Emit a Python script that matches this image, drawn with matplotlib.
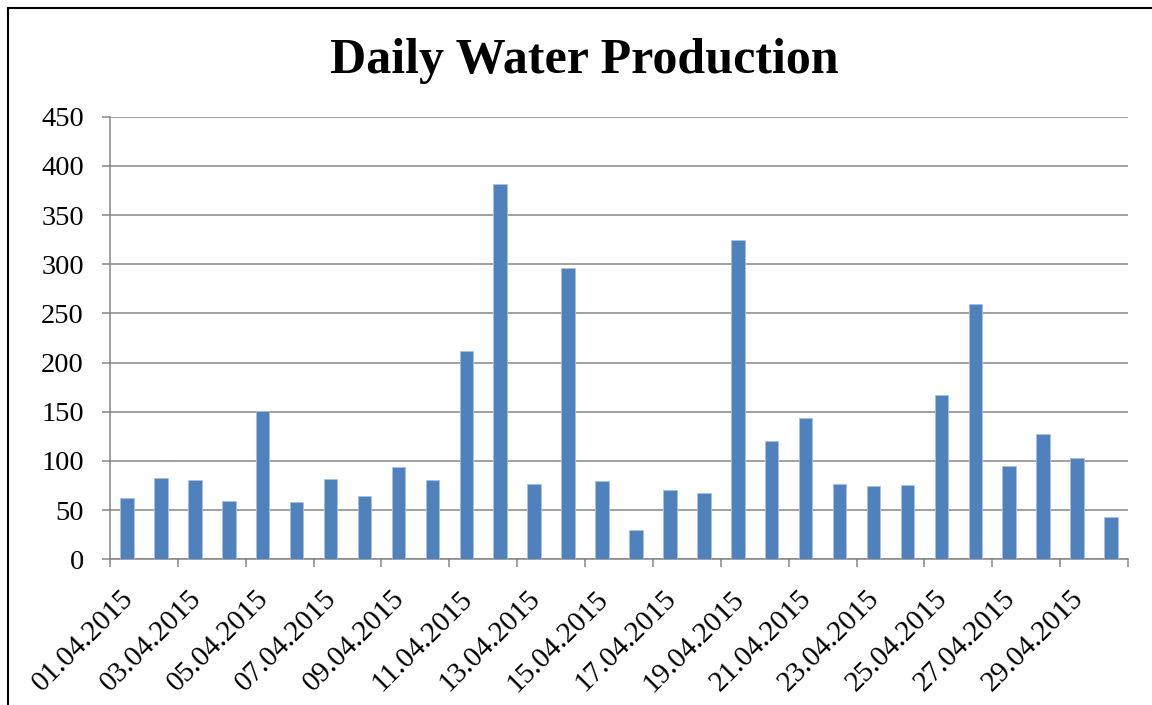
import matplotlib.pyplot as plt
import matplotlib.transforms as mtransforms
from matplotlib.lines import Line2D

days = ["%02d.04.2015" % d for d in range(1, 31)]
production = [62, 83, 81, 59, 151, 58, 82, 64, 94, 81,
              212, 382, 77, 296, 80, 30, 70, 67, 325, 120,
              144, 77, 75, 76, 167, 260, 95, 127, 103, 43]
label_days = days[::2]
y_ticks = [0, 50, 100, 150, 200, 250, 300, 350, 400, 450]

plt.rcParams['font.family'] = ['Liberation Serif', 'DejaVu Serif']

fig = plt.figure(figsize=(11.52, 7.05), dpi=100)
ax = fig.add_axes([110 / 1152, 1 - 559.3 / 705, 1018 / 1152, 442.6 / 705])

x = list(range(len(days)))
ax.bar(x, production, width=0.4, color='#4F81BD', edgecolor='#A9C1E0', linewidth=0.6, zorder=3)

ax.set_xlim(-0.5, 29.5)
ax.set_ylim(0, 450)
ax.set_yticks(y_ticks)
ax.tick_params(axis='y', labelsize=20.5, length=5.8, width=1.1, color='#868686', pad=13)
ax.grid(axis='y', color='#868686', linewidth=1.1, zorder=0)

# ticks at category boundaries, labels at every other category
ax.set_xticks([i - 0.5 for i in range(0, 31, 2)])
ax.set_xticklabels([])
ax.tick_params(axis='x', which='major', length=5.8, width=1.1, color='#868686')
ax.set_xticks(x[::2], minor=True)
ax.set_xticklabels(label_days, minor=True, rotation=45, ha='right',
                   rotation_mode='anchor', fontsize=21)
ax.tick_params(axis='x', which='minor', length=0, pad=19)
shift = mtransforms.ScaledTranslation(-7 / 100, 0, fig.dpi_scale_trans)
for lbl in ax.get_xticklabels(minor=True):
    lbl.set_transform(lbl.get_transform() + shift)

for side in ['top', 'right']:
    ax.spines[side].set_visible(False)
for side in ['left', 'bottom']:
    ax.spines[side].set_color('#868686')
    ax.spines[side].set_linewidth(1.1)

fig.text(584 / 1152, 1 - 73 / 705, 'Daily Water Production', ha='center', va='baseline',
         fontsize=36, fontweight='bold')

# chart frame
fig.add_artist(Line2D([8 / 1152, 8 / 1152], [0, 1 - 8 / 705], color='black', lw=1.5))
fig.add_artist(Line2D([8 / 1152, 1], [1 - 8 / 705, 1 - 8 / 705], color='black', lw=1.5))

plt.savefig('out.png', dpi=100)
